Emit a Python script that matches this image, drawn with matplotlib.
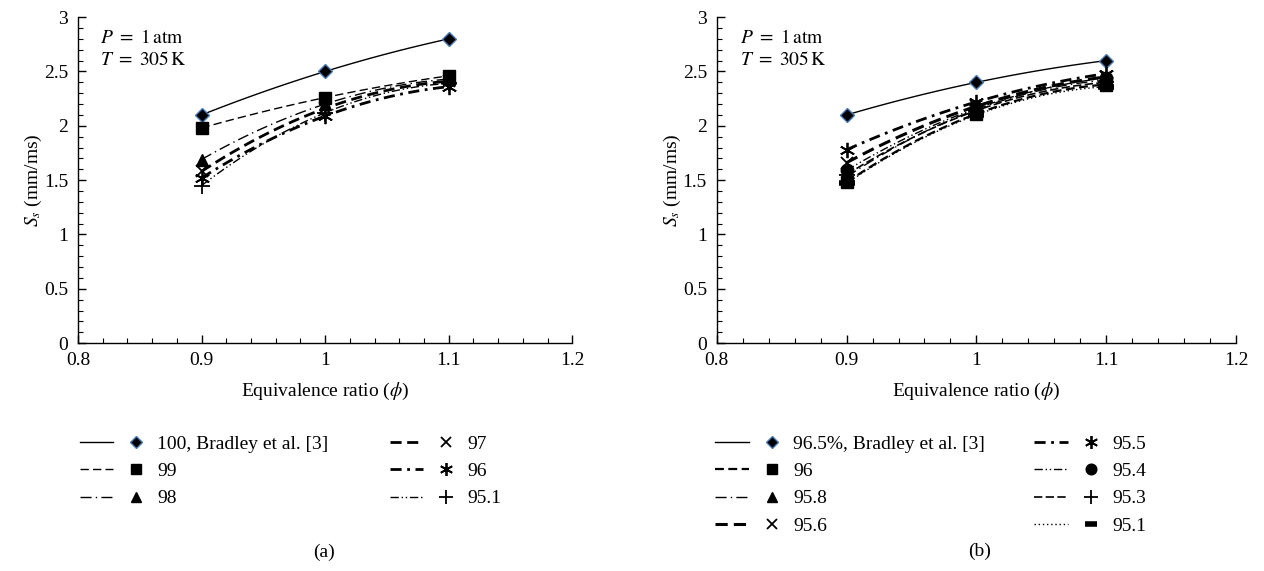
import numpy as np
import matplotlib
matplotlib.use("Agg")
import matplotlib.pyplot as plt
from matplotlib.lines import Line2D
from matplotlib.legend_handler import HandlerTuple
from matplotlib.ticker import MultipleLocator

plt.rcParams['font.family'] = ['Liberation Serif', 'DejaVu Serif']
plt.rcParams['mathtext.fontset'] = 'stix'
plt.rcParams['font.size'] = 14

phi = [0.9, 1.0, 1.1]

# panel (a): methane content (%)
labels_a = ['100, Bradley et al. [3]', '99', '98', '97', '96', '95.1']
ss_a = [
    [2.10, 2.50, 2.80],
    [1.98, 2.26, 2.46],
    [1.69, 2.20, 2.43],
    [1.58, 2.16, 2.41],
    [1.52, 2.09, 2.36],
    [1.45, 2.12, 2.39],
]

# panel (b)
labels_b = ['96.5%, Bradley et al. [3]', '96', '95.8', '95.6',
            '95.5', '95.4', '95.3', '95.1']
ss_b = [
    [2.10, 2.40, 2.60],
    [1.48, 2.11, 2.38],
    [1.53, 2.15, 2.42],
    [1.66, 2.18, 2.45],
    [1.78, 2.22, 2.48],
    [1.59, 2.16, 2.44],
    [1.55, 2.14, 2.40],
    [1.47, 2.10, 2.36],
]

star = (6, 2, 0)
blue_edge = '#4a7ab5'

style_a = [
    dict(ls='-', lw=1.0, marker='D', ms=7, mec=blue_edge),
    dict(ls=(0, (6, 3)), lw=1.0, marker='s', ms=9),
    dict(ls=(0, (8, 3, 1, 3)), lw=1.0, marker='^', ms=9),
    dict(ls=(0, (4, 2)), lw=2.0, marker='x', ms=9, mew=1.3),
    dict(ls=(0, (4, 2, 1, 2)), lw=2.0, marker=star, ms=11, mew=1.3),
    dict(ls=(0, (6, 2, 1, 2, 1, 2)), lw=1.0, marker='+', ms=12, mew=1.3),
]
style_b = [
    dict(ls='-', lw=1.0, marker='D', ms=7, mec=blue_edge),
    dict(ls=(0, (4, 2)), lw=1.6, marker='s', ms=9),
    dict(ls=(0, (8, 3, 1, 3)), lw=1.0, marker='^', ms=9),
    dict(ls=(0, (4, 2)), lw=2.2, marker='x', ms=9, mew=1.3),
    dict(ls=(0, (4, 2, 1, 2)), lw=2.0, marker=star, ms=11, mew=1.3),
    dict(ls=(0, (6, 2, 1, 2, 1, 2)), lw=1.0, marker='o', ms=9),
    dict(ls=(0, (5, 2)), lw=1.2, marker='+', ms=12, mew=1.3),
    dict(ls=(0, (1, 2)), lw=1.0, marker='_', ms=11, mew=4),
]


def smooth(x, y):
    c = np.polyfit(x, y, 2)
    xs = np.linspace(x[0], x[-1], 60)
    return xs, np.polyval(c, xs)


def fmt(v, p):
    return '%g' % round(v, 2)


def draw(ax, series, labels, styles, legend_box, colsp):
    handles = []
    for y, lab, st in zip(series, labels, styles):
        st = dict(st)
        mk = st.pop('marker')
        ms = st.pop('ms')
        mec = st.pop('mec', 'black')
        mew = st.pop('mew', 1.0)
        xs, ys = smooth(phi, y)
        ax.plot(xs, ys, color='black', zorder=2, **st)
        ax.plot(phi, y, ls='none', marker=mk, ms=ms, mfc='black', mec=mec,
                mew=mew, zorder=3)
        ln = Line2D([], [], color='black', **st)
        mm = Line2D([], [], ls='none', marker=mk, ms=ms * 0.85, mfc='black',
                    mec=mec, mew=mew)
        handles.append((ln, mm))

    ax.set_xlim(0.8, 1.2)
    ax.set_ylim(0, 3)
    ax.xaxis.set_major_locator(MultipleLocator(0.1))
    ax.xaxis.set_minor_locator(MultipleLocator(0.02))
    ax.yaxis.set_major_locator(MultipleLocator(0.5))
    ax.yaxis.set_minor_locator(MultipleLocator(0.1))
    ax.xaxis.set_major_formatter(plt.FuncFormatter(fmt))
    ax.yaxis.set_major_formatter(plt.FuncFormatter(fmt))
    ax.tick_params(which='both', direction='in', top=False, right=False)
    ax.tick_params(which='major', length=6, width=1.0, labelsize=14)
    ax.tick_params(axis='x', which='major', pad=6)
    ax.tick_params(axis='y', which='major', pad=7)
    ax.tick_params(which='minor', length=3.5, width=0.8)
    for s in ['top', 'right']:
        ax.spines[s].set_visible(False)
    for s in ['left', 'bottom']:
        ax.spines[s].set_linewidth(1.0)
    ax.set_xlabel(r'Equivalence ratio ($\phi$)', fontsize=14, labelpad=9)
    ax.set_ylabel(r'$S_s$ (mm/ms)', fontsize=14, labelpad=0)
    ax.text(0.045, 0.965, r'$P\ =\ 1\,\mathrm{atm}$', transform=ax.transAxes,
            fontsize=14, va='top')
    ax.text(0.045, 0.895, r'$T\ =\ 305\,\mathrm{K}$', transform=ax.transAxes,
            fontsize=14, va='top')

    ax.figure.legend(handles, labels, ncol=2, loc='upper left',
                     bbox_to_anchor=legend_box, frameon=False, fontsize=14,
                     handler_map={tuple: HandlerTuple(ndivide=None, pad=0.33)},
                     handlelength=3.74, handletextpad=0.25, labelspacing=0.5,
                     columnspacing=colsp, borderaxespad=0, borderpad=0)


fig = plt.figure(figsize=(12.64, 5.71), dpi=100)
ax1 = fig.add_axes([0.0617, 0.399, 0.391, 0.571])
ax2 = fig.add_axes([0.567, 0.399, 0.411, 0.571])

draw(ax1, ss_a, labels_a, style_a, (0.063, 0.238), 3.15)
draw(ax2, ss_b, labels_b, style_b, (0.566, 0.238), 2.55)

fig.text(0.256, 0.032, '(a)', ha='center', va='center', fontsize=14)
fig.text(0.775, 0.035, '(b)', ha='center', va='center', fontsize=14)

fig.savefig('out.png', dpi=100)
